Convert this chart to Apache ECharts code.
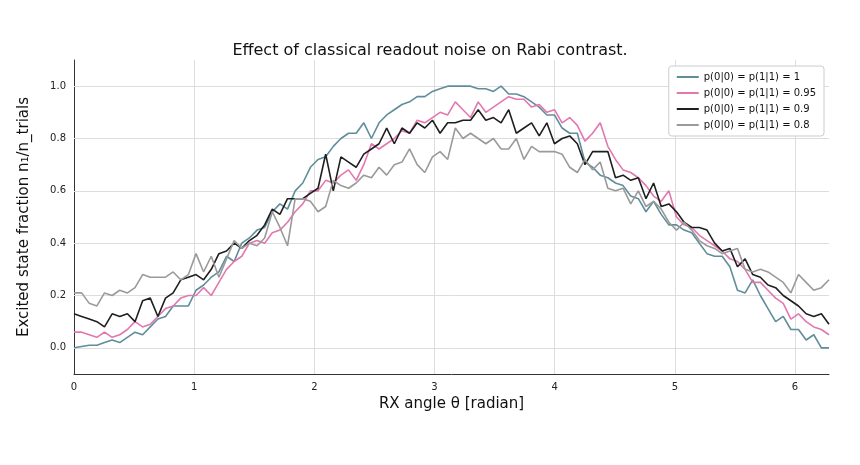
<!DOCTYPE html><html><head><meta charset="utf-8"><script src="https://cdn.jsdelivr.net/npm/echarts@6/dist/echarts.min.js"></script>
<style>html,body{margin:0;padding:0;background:#f7f7f7}#c{width:860px;height:465px;background:#fff}</style></head><body><div id="c"></div><script>
const N = 100;
const angles = Array.from({length:N},(_,i)=>i*2*Math.PI/(N-1));
const labels = ['p(0|0) = p(1|1) = 1','p(0|0) = p(1|1) = 0.95','p(0|0) = p(1|1) = 0.9','p(0|0) = p(1|1) = 0.8'];
const s1 = [0.00,0.005,0.01,0.01,0.02,0.03,0.02,0.04,0.06,0.05,
0.08,0.11,0.12,0.16,0.16,0.16,0.22,0.24,0.27,0.29,
0.35,0.33,0.40,0.42,0.45,0.46,0.52,0.55,0.53,0.60,
0.63,0.69,0.72,0.73,0.77,0.80,0.82,0.82,0.86,0.80,
0.86,0.89,0.91,0.93,0.94,0.96,0.96,0.98,0.99,1.00,
1.00,1.00,1.00,0.99,0.99,0.98,1.00,0.97,0.97,0.96,
0.94,0.92,0.89,0.89,0.84,0.82,0.82,0.71,0.69,0.66,
0.65,0.63,0.62,0.58,0.57,0.52,0.56,0.51,0.47,0.47,
0.45,0.44,0.40,0.36,0.35,0.35,0.31,0.22,0.21,0.26,
0.20,0.15,0.10,0.12,0.07,0.07,0.03,0.05,0.00,0.00];
const s2 = [0.06,0.06,0.05,0.04,0.06,0.04,0.05,0.07,0.10,0.08,
0.09,0.12,0.15,0.16,0.19,0.20,0.20,0.23,0.20,0.25,
0.30,0.33,0.35,0.40,0.41,0.40,0.44,0.45,0.48,0.52,
0.55,0.60,0.60,0.64,0.63,0.66,0.68,0.64,0.70,0.78,
0.76,0.78,0.80,0.83,0.82,0.87,0.86,0.88,0.90,0.89,
0.94,0.91,0.88,0.94,0.90,0.92,0.94,0.96,0.95,0.95,
0.92,0.93,0.90,0.91,0.86,0.88,0.85,0.79,0.82,0.86,
0.77,0.72,0.68,0.67,0.65,0.62,0.58,0.56,0.60,0.50,
0.47,0.46,0.43,0.41,0.39,0.37,0.34,0.33,0.30,0.25,
0.25,0.22,0.19,0.17,0.11,0.13,0.10,0.08,0.07,0.05];
const s3 = [0.13,0.12,0.11,0.10,0.08,0.13,0.12,0.13,0.10,0.18,
0.19,0.12,0.19,0.21,0.26,0.27,0.28,0.26,0.30,0.36,
0.37,0.40,0.38,0.41,0.43,0.47,0.53,0.51,0.57,0.57,
0.57,0.59,0.61,0.74,0.60,0.73,0.71,0.69,0.74,0.76,
0.78,0.84,0.78,0.84,0.82,0.86,0.84,0.87,0.82,0.86,
0.86,0.87,0.87,0.91,0.87,0.88,0.86,0.91,0.82,0.84,
0.86,0.81,0.86,0.78,0.80,0.81,0.78,0.70,0.75,0.75,
0.75,0.65,0.66,0.64,0.65,0.57,0.63,0.54,0.55,0.52,
0.48,0.46,0.46,0.45,0.40,0.37,0.38,0.31,0.34,0.28,
0.27,0.24,0.23,0.20,0.18,0.16,0.13,0.12,0.13,0.09];
const s4 = [0.21,0.21,0.17,0.16,0.21,0.20,0.22,0.21,0.23,0.28,
0.27,0.27,0.27,0.29,0.26,0.28,0.36,0.29,0.35,0.27,
0.34,0.41,0.38,0.40,0.39,0.42,0.52,0.46,0.39,0.57,
0.57,0.56,0.52,0.54,0.64,0.62,0.61,0.63,0.66,0.65,
0.69,0.66,0.70,0.71,0.76,0.70,0.67,0.73,0.75,0.72,
0.84,0.80,0.82,0.80,0.78,0.80,0.76,0.76,0.80,0.72,
0.77,0.75,0.75,0.75,0.74,0.69,0.67,0.72,0.68,0.71,
0.61,0.60,0.61,0.55,0.60,0.54,0.56,0.53,0.48,0.45,
0.48,0.45,0.41,0.39,0.38,0.36,0.37,0.38,0.30,0.29,
0.30,0.29,0.27,0.25,0.21,0.28,0.25,0.22,0.23,0.26];
const gridY = [0,0.2,0.4,0.6,0.8,1.0];
const gridX = [1,2,3,4,5,6];
const colors = ['#5f8d9b','#e377b0','#1f1f1f','#9a9a9a'];
const all = [s1,s2,s3,s4];
const series = all.map((d,k)=>({name:labels[k],type:'line',showSymbol:false,symbol:'none',
  data:d.map((v,i)=>[angles[i],v]),lineStyle:{width:1.6,color:colors[k]},itemStyle:{color:colors[k]},z:5}));
series[0].markLine = {silent:true,symbol:'none',label:{show:false},lineStyle:{color:'#dddddd',type:'solid',width:1},
  data:gridY.map(v=>({yAxis:v})).concat(gridX.map(v=>({xAxis:v}))),z:1};
const chart = echarts.init(document.getElementById('c'));
chart.setOption({
  animation:false,
  title:{text:'Effect of classical readout noise on Rabi contrast.',left:'center',top:38,textStyle:{fontFamily:'DejaVu Sans',fontSize:16,fontWeight:'normal',color:'#111'}},
  grid:{left:74,right:31,top:60,bottom:91},
  legend:{orient:'vertical',right:36,top:66,itemWidth:22,itemHeight:2,itemGap:6,padding:[6,8],
    borderColor:'#ccc',borderWidth:1,borderRadius:3,backgroundColor:'#fff',icon:'rect',
    textStyle:{fontFamily:'DejaVu Sans',fontSize:10,color:'#111'},data:labels},
  xAxis:{type:'value',min:0,max:2*Math.PI,interval:1,name:'RX angle θ [radian]',nameLocation:'middle',nameGap:22,
    nameTextStyle:{fontFamily:'DejaVu Sans',fontSize:15,color:'#111'},
    axisLine:{show:true,onZero:false,lineStyle:{color:'#333'}},axisTick:{show:false},splitLine:{show:false},
    axisLabel:{fontFamily:'DejaVu Sans',fontSize:10,color:'#222',showMaxLabel:false,formatter:v=>String(v)}},
  yAxis:{type:'value',min:-0.1,max:1.1,interval:0.1,name:'Excited state fraction n₁/n_trials',nameLocation:'middle',nameGap:42,
    nameTextStyle:{fontFamily:'DejaVu Sans',fontSize:15,color:'#111'},
    axisLine:{show:true,lineStyle:{color:'#333'}},axisTick:{show:false},splitLine:{show:false},
    axisLabel:{fontFamily:'DejaVu Sans',fontSize:10,color:'#222',
      formatter:v=>{const r=Math.round(v*10);return (r>=0&&r%2===0)?(r/10).toFixed(1):'';}}},
  series:series
});
</script></body></html>
